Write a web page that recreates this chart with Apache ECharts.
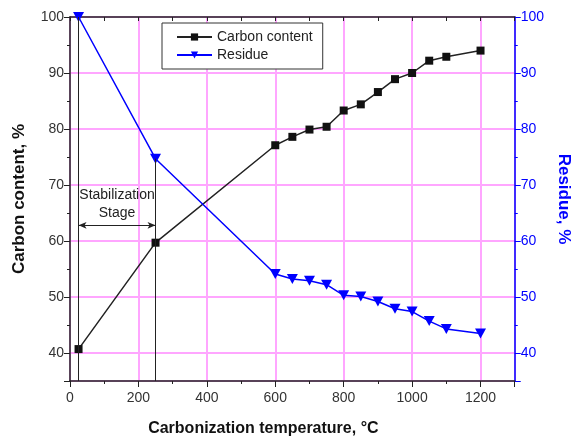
<!DOCTYPE html>
<html>
<head>
<meta charset="utf-8">
<script src="https://cdn.jsdelivr.net/npm/echarts@6/dist/echarts.min.js"></script>
<style>
  html, body { margin: 0; padding: 0; background: #fff; }
  #chart { width: 580px; height: 445px; }
</style>
</head>
<body>
<div id="chart"></div>
<script>
// carbonization temperature, degC
const tempC = [25, 250, 600, 650, 700, 750, 800, 850, 900, 950, 1000, 1050, 1100, 1200];
// carbon content, %
const carbonContent = [40.7, 59.7, 77.1, 78.6, 79.9, 80.4, 83.3, 84.4, 86.6, 88.9, 90.0, 92.2, 92.9, 94.0];
// residue, %
const residue = [100, 74.7, 54.1, 53.2, 52.9, 52.2, 50.3, 50.1, 49.2, 47.9, 47.4, 45.7, 44.3, 43.5];

// stabilization stage bounds (temperature) and arrow level (%)
const stageStart = 25;
const stageEnd = 250;
const stageArrowY = 62.8;

const pink = '#ffa6ff';
const blue = '#0000ff';
const font = '"Liberation Sans", Arial, sans-serif';

const chart = echarts.init(document.getElementById('chart'), null, { renderer: 'canvas' });

const carbonPts = tempC.map((t, i) => [t, carbonContent[i]]);
const residuePts = tempC.map((t, i) => [t, residue[i]]);

// value axis 35..100, nice ticks every 10 with a minor tick between
function yAxisOf(side, name, color, gap, rotate) {
  return {
    type: 'value', min: 35, max: 100, splitNumber: 7, position: side,
    name: name,
    nameLocation: 'middle', nameGap: gap, nameRotate: rotate,
    nameTextStyle: { fontFamily: font, fontSize: 17, fontWeight: 'bold', color: color === blue ? blue : '#111' },
    axisLine: { show: true, onZero: false, lineStyle: { color: color, width: 1.5 } },
    axisTick: { show: true, length: 6, lineStyle: { color: color } },
    minorTick: { show: true, splitNumber: 2, length: 3, lineStyle: { color: color } },
    axisLabel: {
      fontFamily: font, fontSize: 14, color: color === blue ? blue : '#333', margin: 6,
      showMinLabel: false,
      formatter: v => v % 10 === 0 ? v : ''
    },
    splitLine: { show: side === 'left', lineStyle: { color: pink, width: 2 } }
  };
}

chart.setOption({
  animation: false,
  grid: { left: 70, right: 61, top: 17, bottom: 64 },
  legend: {
    left: 162, top: 23,
    orient: 'vertical',
    itemWidth: 35, itemHeight: 9, itemGap: 4,
    padding: [7, 10, 7, 14],
    borderColor: '#333', borderWidth: 1,
    backgroundColor: '#fff',
    textStyle: { fontFamily: font, fontSize: 14, color: '#222' },
    data: ['Carbon content', 'Residue']
  },
  xAxis: [{
    type: 'value', min: 0, max: 1300, interval: 200,
    name: 'Carbonization temperature, °C',
    nameLocation: 'middle', nameGap: 40,
    nameTextStyle: { fontFamily: font, fontSize: 16, fontWeight: 'bold', color: '#111', padding: [0, 58, 0, 0] },
    axisLine: { onZero: false, lineStyle: { color: '#222', width: 1.5 } },
    axisTick: { length: 6, lineStyle: { color: '#222' } },
    minorTick: { show: true, splitNumber: 2, length: 3, lineStyle: { color: '#222' } },
    axisLabel: {
      fontFamily: font, fontSize: 14, color: '#333', margin: 10,
      showMaxLabel: false,
      formatter: v => v <= 1200 ? v : ''
    },
    splitLine: { show: true, lineStyle: { color: pink, width: 2 } }
  }, {
    type: 'value', min: 0, max: 1300, interval: 100, position: 'top',
    axisLine: { show: true, onZero: false, lineStyle: { color: '#222', width: 1.5 } },
    axisTick: { inside: true, length: 4, lineStyle: { color: '#222' } },
    axisLabel: { show: false },
    splitLine: { show: false }
  }],
  yAxis: [
    yAxisOf('left', 'Carbon content, %', '#222', 42, 90),
    yAxisOf('right', 'Residue, %', blue, 37, -90)
  ],
  series: [{
    name: 'Carbon content',
    type: 'line',
    xAxisIndex: 0, yAxisIndex: 0,
    data: carbonPts,
    symbol: 'rect', symbolSize: 8,
    itemStyle: { color: '#111' },
    lineStyle: { color: '#222', width: 1.5 },
    z: 3,
    markLine: {
      silent: true,
      symbol: ['none', 'none'],
      lineStyle: { color: '#222', width: 1, type: 'solid' },
      label: { show: false },
      data: [
        [{ coord: [stageStart, 35] }, { coord: [stageStart, residue[0]] }],
        [{ coord: [stageEnd, 35] }, { coord: [stageEnd, residue[1]] }],
        [
          {
            coord: [stageStart, stageArrowY], symbol: 'arrow', symbolSize: [5, 8],
            label: {
              show: true, position: 'insideMiddleTop', distance: 3,
              formatter: 'Stabilization\nStage',
              fontFamily: font, fontSize: 14, color: '#222', lineHeight: 18, align: 'center'
            }
          },
          { coord: [stageEnd, stageArrowY], symbol: 'arrow', symbolSize: [5, 8] }
        ]
      ]
    }
  }, {
    name: 'Residue',
    type: 'line',
    xAxisIndex: 0, yAxisIndex: 1,
    data: residuePts,
    symbol: 'triangle', symbolSize: [11, 10], symbolRotate: 180,
    itemStyle: { color: blue },
    lineStyle: { color: blue, width: 1.5 },
    z: 4
  }]
});
</script>
</body>
</html>
